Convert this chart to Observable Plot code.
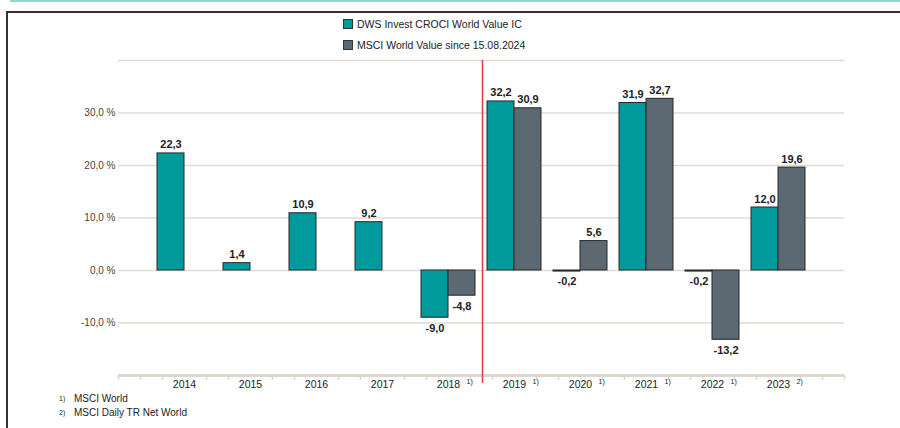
<!DOCTYPE html>
<html><head><meta charset="utf-8">
<script src="https://cdn.jsdelivr.net/npm/d3@7"></script>
<script src="https://cdn.jsdelivr.net/npm/@observablehq/plot@0.6"></script>
<style>
body{margin:0;background:#fff;font-family:"Liberation Sans",Arial,sans-serif;color:#222;}
#wrap{position:relative;width:900px;height:428px;overflow:hidden;background:#fff;}
.topline{position:absolute;left:10px;right:0;top:0;height:2px;background:#8fd9d3;}
.frame{position:absolute;left:6px;top:11px;width:900px;height:430px;border-top:2px solid #333;border-left:2px solid #333;}
#legend{position:absolute;left:343px;top:13px;font-size:10.5px;}
#legend .row{display:flex;align-items:center;height:21px;}
#legend .sw{width:8px;height:8px;border:1px solid #333;margin-right:4px;}
#chart{position:absolute;left:0;top:0;}
#notes{position:absolute;left:59px;top:393px;font-size:10px;}
#notes .row{display:flex;align-items:baseline;height:14px;}
#notes .mk{font-size:7px;width:15px;position:relative;top:-1px;}
</style></head><body>
<div id="wrap">
  <div class="topline"></div>
  <div class="frame"></div>
  <div id="legend"></div>
  <div id="chart"></div>
  <div id="notes"></div>
</div>
<script>
const years = ["2014","2015","2016","2017","2018","2019","2020","2021","2022","2023"];
const dwsValues = [22.3, 1.4, 10.9, 9.2, -9.0, 32.2, -0.2, 31.9, -0.2, 12.0];
const msciValues = [null, null, null, null, -4.8, 30.9, 5.6, 32.7, -13.2, 19.6];
const footnoteMarks = ["", "", "", "", "1)", "1)", "1)", "1)", "1)", "2)"];
const yTicks = [-10, 0, 10, 20, 30];
const gridValues = [-10, 0, 10, 20, 30, 40];
const seriesNames = ["DWS Invest CROCI World Value IC", "MSCI World Value since 15.08.2024"];
const seriesColors = ["#009a9c", "#5c6872"];
const noteMarks = ["1)", "2)"];
const noteTexts = ["MSCI World", "MSCI Daily TR Net World"];

const fmt = v => v.toFixed(1).replace(".", ",");

// legend
const legend = document.getElementById("legend");
seriesNames.forEach((n, i) => {
  const r = document.createElement("div"); r.className = "row";
  const s = document.createElement("span"); s.className = "sw"; s.style.background = seriesColors[i];
  const t = document.createElement("span"); t.textContent = n;
  r.append(s, t); legend.append(r);
});
// notes
const notes = document.getElementById("notes");
noteTexts.forEach((n, i) => {
  const r = document.createElement("div"); r.className = "row";
  const m = document.createElement("span"); m.className = "mk"; m.textContent = noteMarks[i];
  const t = document.createElement("span"); t.textContent = n;
  r.append(m, t); notes.append(r);
});

const dws = years.map((y, i) => ({year: y, value: dwsValues[i]}));
const msci = years.map((y, i) => ({year: y, value: msciValues[i]})).filter(d => d.value != null);
const foot = years.map((y, i) => ({year: y, mark: footnoteMarks[i]})).filter(d => d.mark);

const tickOffsets = [-22, 22];
const axisTicks = [];
years.forEach((y, i) => {
  const offs = tickOffsets.slice();
  if (i === 0) offs.push(-44, -66);
  if (i === years.length - 1) offs.push(44, 66);
  offs.forEach(o => axisTicks.push({year: y, off: o}));
});

const tickMarks = [...new Set(axisTicks.map(d => d.off))].map(o =>
  Plot.ruleX(axisTicks.filter(d => d.off === o), {x: "year", y1: -20, y2: -20.9, dx: o, stroke: "#d9d5cb", strokeWidth: 1.5})
);

const labelMarks = (data, dx) => [
  Plot.text(data.filter(d => d.value >= 0), {x: "year", y: "value", text: d => fmt(d.value), dx, dy: -5, lineAnchor: "bottom", fontSize: 11, fontWeight: "bold", fill: "#222"}),
  Plot.text(data.filter(d => d.value < 0), {x: "year", y: "value", text: d => fmt(d.value), dx, dy: 6, lineAnchor: "top", fontSize: 11, fontWeight: "bold", fill: "#222"})
];

const chart = Plot.plot({
  width: 900, height: 428,
  marginTop: 60, marginBottom: 53, marginLeft: 118, marginRight: 56,
  style: {fontFamily: '"Liberation Sans", Arial, sans-serif', background: "transparent", overflow: "visible"},
  x: {domain: years, paddingInner: 0, paddingOuter: 0.5, axis: null},
  y: {domain: [-20, 40], axis: null},
  marks: [
    Plot.ruleY(gridValues, {stroke: "#e0dcd4", strokeWidth: 1.5}),
    Plot.ruleY([-20], {stroke: "#dcd8cf", strokeWidth: 3}),
    ...tickMarks,
    Plot.barY(dws, {x: "year", y: "value", fill: seriesColors[0], stroke: "#262626", strokeWidth: 1, insetLeft: 6, insetRight: 33}),
    Plot.barY(msci, {x: "year", y: "value", fill: seriesColors[1], stroke: "#262626", strokeWidth: 1, insetLeft: 33, insetRight: 6}),
    Plot.ruleX(["2019"], {y1: 40, y2: -21.5, dx: -32, stroke: "#e8393e", strokeWidth: 1.5}),
    ...labelMarks(dws, -13.5),
    ...labelMarks(msci, 13.5),
    Plot.axisY(yTicks, {tickSize: 0, tickPadding: 3, tickFormat: d => fmt(d) + " %", fontSize: 10, fill: "#444", label: null}),
    Plot.text(years, {x: d => d, y: -20, dy: 9, text: d => d, fontSize: 10.5, fill: "#222"}),
    Plot.text(foot, {x: "year", y: -20, dy: 6, dx: 18, text: "mark", textAnchor: "start", fontSize: 7, fill: "#222"})
  ]
});
document.getElementById("chart").append(chart);
</script>
</body></html>
